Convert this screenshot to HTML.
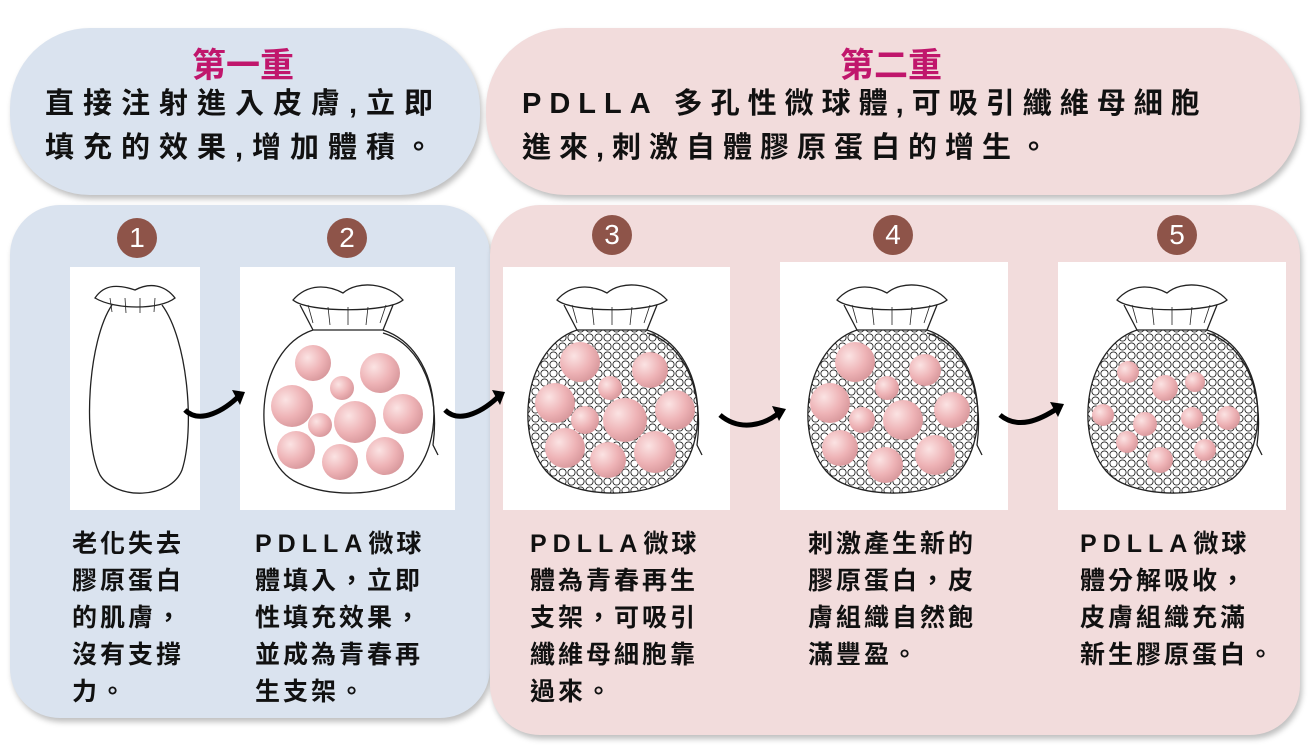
<!DOCTYPE html>
<html><head><meta charset="utf-8"><style>
body{margin:0;width:1313px;height:749px;background:#fff;position:relative;overflow:hidden;font-family:"Liberation Sans","Noto Sans CJK TC",sans-serif;}
.b{position:absolute;box-shadow:2px 4px 6px rgba(0,0,0,0.25);}
.blue{background:#dae3ef;}
.pink{background:#f2dcdc;}
.t{position:absolute;color:#c0166c;font-size:34px;font-weight:bold;}
.tx{position:absolute;font-size:29px;letter-spacing:9px;line-height:44px;color:#111;font-weight:bold;}
.n{position:absolute;width:40px;height:40px;border-radius:50%;background:#8e5449;color:#fff;font-size:28px;text-align:center;line-height:40px;}
.box{position:absolute;background:#fff;}
.d{position:absolute;font-size:25px;line-height:37px;letter-spacing:3px;color:#111;font-weight:bold;}
.p{letter-spacing:6px;}
</style></head><body>
<div class="b blue" style="left:10px;top:28px;width:470px;height:167px;border-radius:80px;"></div>
<div class="b pink" style="left:486px;top:28px;width:814px;height:167px;border-radius:80px;"></div>
<div class="b blue" style="left:10px;top:205px;width:480px;height:513px;border-radius:50px;"></div>
<div class="b pink" style="left:490px;top:205px;width:810px;height:530px;border-radius:50px;"></div>
<div class="t" style="left:192px;top:38px;">第一重</div>
<div class="t" style="left:840px;top:38px;">第二重</div>
<div class="tx" style="left:45px;top:82px;">直接注射進入皮膚,立即<br>填充的效果,增加體積。</div>
<div class="tx" style="left:522px;top:82px;letter-spacing:8px;">PDLLA 多孔性微球體,可吸引纖維母細胞<br>進來,刺激自體膠原蛋白的增生。</div>
<div class="n" style="left:117px;top:218px;">1</div>
<div class="n" style="left:327px;top:218px;">2</div>
<div class="n" style="left:592px;top:215px;">3</div>
<div class="n" style="left:873px;top:215px;">4</div>
<div class="n" style="left:1157px;top:215px;">5</div>
<div class="box" style="left:70px;top:267px;width:130px;height:243px;"></div>
<div class="box" style="left:240px;top:267px;width:215px;height:243px;"></div>
<div class="box" style="left:503px;top:267px;width:227px;height:243px;"></div>
<div class="box" style="left:780px;top:262px;width:228px;height:248px;"></div>
<div class="box" style="left:1058px;top:262px;width:228px;height:248px;"></div>
<svg width="1313" height="749" style="position:absolute;left:0;top:0">
<defs>
<radialGradient id="pg" cx="35%" cy="35%" r="70%"><stop offset="0" stop-color="#fbe3e3"/><stop offset="0.6" stop-color="#eeb3b6"/><stop offset="1" stop-color="#d8989c"/></radialGradient>
<pattern id="dots" width="9" height="9" patternUnits="userSpaceOnUse"><circle cx="4.5" cy="4.5" r="3.6" fill="#fff" stroke="#222" stroke-width="0.9"/></pattern>
<path id="body" d="M-35 -75 C-95 -55 -100 55 -50 78 C-20 92 30 92 60 74 C100 42 95 -55 35 -75 Z"/>
<g id="top" fill="#fff" stroke="#222" stroke-width="1.3">
<path d="M-35 -75 L-48 -100 M35 -75 L45 -100" fill="none"/>
<path d="M35 -72 C75 -60 92 -10 85 40 L90 50" fill="none"/>
<path d="M-55 -105 C-40 -122 -20 -120 -5 -112 C10 -125 40 -122 55 -105 C40 -92 -40 -92 -55 -105Z"/>
<path d="M-40 -100 L-35 -82 M-20 -98 L-18 -80 M0 -98 L0 -80 M20 -98 L18 -80 M38 -100 L32 -82" fill="none" stroke-width="0.8"/>
</g>
</defs>
<g fill="none" stroke="#222" stroke-width="1.3">
<path d="M112 305 C88 340 82 440 100 475 C115 500 170 500 182 470 C195 430 188 340 162 305" fill="#fff"/>
<path d="M95 298 C105 283 120 285 135 290 C150 282 165 285 175 298 C160 310 115 310 95 298Z" fill="#fff"/>
<path d="M110 298 L112 312 M125 298 L126 313 M140 298 L140 313 M155 298 L154 312" stroke-width="0.8"/>
</g>
<path d="M185 410 C200 425 225 410 240 395" fill="none" stroke="#000" stroke-width="5"/><path d="M232 390 L245 392 L240 405Z" fill="#000"/>
<path d="M445 410 C460 425 485 410 500 395" fill="none" stroke="#000" stroke-width="5"/><path d="M492 390 L505 392 L500 405Z" fill="#000"/>
<path d="M720 415 C740 432 765 425 780 412" fill="none" stroke="#000" stroke-width="5"/><path d="M772 406 L786 409 L779 421Z" fill="#000"/>
<path d="M1000 415 C1018 430 1040 420 1058 408" fill="none" stroke="#000" stroke-width="5"/><path d="M1050 402 L1064 404 L1058 417Z" fill="#000"/>
<g transform="translate(348,405)"><use href="#body" fill="#fff" stroke="#222" stroke-width="1.3"/><use href="#top"/></g>
<g transform="translate(612,405)"><use href="#body" fill="url(#dots)" stroke="#222" stroke-width="1.3"/><use href="#top"/></g>
<g transform="translate(892,405)"><use href="#body" fill="url(#dots)" stroke="#222" stroke-width="1.3"/><use href="#top"/></g>
<g transform="translate(1172,405)"><use href="#body" fill="url(#dots)" stroke="#222" stroke-width="1.3"/><use href="#top"/></g>
<g fill="url(#pg)">
<circle cx="313" cy="363" r="18"/><circle cx="380" cy="373" r="20"/><circle cx="342" cy="388" r="12"/><circle cx="292" cy="406" r="21"/><circle cx="355" cy="422" r="21"/><circle cx="403" cy="414" r="20"/><circle cx="320" cy="425" r="12"/><circle cx="296" cy="450" r="19"/><circle cx="340" cy="462" r="18"/><circle cx="385" cy="456" r="19"/>
<circle cx="580" cy="362" r="20"/><circle cx="650" cy="370" r="18"/><circle cx="610" cy="388" r="12"/><circle cx="555" cy="403" r="20"/><circle cx="625" cy="420" r="22"/><circle cx="675" cy="410" r="20"/><circle cx="585" cy="420" r="14"/><circle cx="565" cy="448" r="20"/><circle cx="608" cy="460" r="18"/><circle cx="655" cy="452" r="21"/>
<circle cx="855" cy="362" r="20"/><circle cx="925" cy="370" r="16"/><circle cx="887" cy="388" r="12"/><circle cx="830" cy="403" r="20"/><circle cx="903" cy="420" r="20"/><circle cx="952" cy="410" r="18"/><circle cx="862" cy="420" r="13"/><circle cx="840" cy="448" r="18"/><circle cx="885" cy="465" r="18"/><circle cx="935" cy="455" r="20"/>
<circle cx="1128" cy="372" r="11"/><circle cx="1165" cy="388" r="13"/><circle cx="1195" cy="382" r="10"/><circle cx="1103" cy="415" r="11"/><circle cx="1145" cy="424" r="12"/><circle cx="1192" cy="418" r="11"/><circle cx="1228" cy="418" r="12"/><circle cx="1127" cy="442" r="11"/><circle cx="1160" cy="460" r="13"/><circle cx="1205" cy="450" r="11"/>
</g>
</svg>
<div class="d" style="left:72px;top:526px;">老化失去<br>膠原蛋白<br>的肌膚，<br>沒有支撐<br>力。</div>
<div class="d" style="left:255px;top:526px;"><span class="p">PDLLA</span>微球<br>體填入，立即<br>性填充效果，<br>並成為青春再<br>生支架。</div>
<div class="d" style="left:530px;top:526px;"><span class="p">PDLLA</span>微球<br>體為青春再生<br>支架，可吸引<br>纖維母細胞靠<br>過來。</div>
<div class="d" style="left:808px;top:526px;">刺激產生新的<br>膠原蛋白，皮<br>膚組織自然飽<br>滿豐盈。</div>
<div class="d" style="left:1080px;top:526px;"><span class="p">PDLLA</span>微球<br>體分解吸收，<br>皮膚組織充滿<br>新生膠原蛋白。</div>
</body></html>
